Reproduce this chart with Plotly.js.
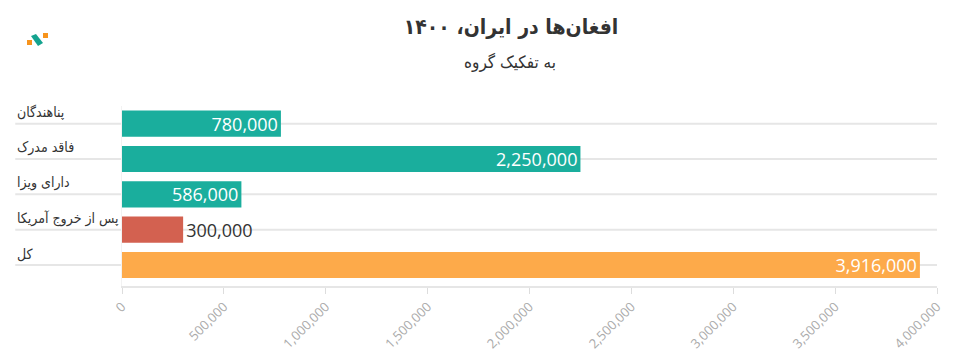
<!DOCTYPE html>
<html><head><meta charset="utf-8">
<script src="https://cdn.plot.ly/plotly-3.0.1.min.js"></script>
<style>html,body{margin:0;padding:0;background:#fff;}#chart{width:962px;height:357px;}</style>
</head><body><div id="chart"></div>
<script>
const categories = ["پناهندگان", "فاقد مدرک", "دارای ویزا", "پس از خروج آمریکا", "کل"];
const values = [780000, 2250000, 586000, 300000, 3916000];
const barColors = ["#1aae9d", "#1aae9d", "#1aae9d", "#d36150", "#fdaa4a"];
const labelPositions = ["inside", "inside", "inside", "outside", "inside"];
const tickValues = [0, 500000, 1000000, 1500000, 2000000, 2500000, 3000000, 3500000, 4000000];
const titleText = "افغان‌ها در ایران، ۱۴۰۰";
const subtitleText = "به تفکیک گروه";

const persianFont = "DejaVu Sans Condensed, DejaVu Sans, sans-serif";
const numFont = "Open Sans, sans-serif";

const trace = {
  type: "bar",
  orientation: "h",
  y: categories,
  x: values,
  marker: {color: barColors},
  text: values.map(v => v.toLocaleString("en-US")),
  textposition: labelPositions,
  insidetextanchor: "end",
  insidetextfont: {family: numFont, size: 18, color: "#ffffff"},
  outsidetextfont: {family: numFont, size: 18, color: "#333333"},
  constraintext: "none",
  cliponaxis: false,
  hoverinfo: "none"
};

const gridShapes = categories.map(c => ({
  type: "line", layer: "below",
  xref: "paper", yref: "y",
  x0: -0.131, x1: 1, y0: c, y1: c,
  line: {color: "#e6e6e6", width: 2}
}));

const labelAnns = categories.map(c => ({
  xref: "paper", yref: "y", x: -0.131, y: c,
  xanchor: "left", yanchor: "bottom", yshift: 1,
  text: c, showarrow: false,
  font: {family: persianFont, size: 14, color: "#333333"}
}));

const PT = 106, PB = 286, PL = 122, PR = 937;
const px = x => (x - PL) / (PR - PL);
const py = y => (PB - y) / (PB - PT);

const layout = {
  width: 962, height: 357,
  margin: {l: PL, r: 962 - PR, t: PT, b: 357 - PB},
  paper_bgcolor: "#ffffff", plot_bgcolor: "#ffffff",
  showlegend: false,
  bargap: 0.26,
  title: {
    text: "<b>" + titleText + "</b>",
    x: 511 / 962, xanchor: "center", xref: "container",
    y: 1 - 27 / 357, yanchor: "middle", yref: "container",
    font: {family: persianFont, size: 21, color: "#333333"}
  },
  xaxis: {
    range: [0, 4000000],
    tickvals: tickValues,
    ticktext: tickValues.map(v => v.toLocaleString("en-US")),
    tickangle: -45,
    tickfont: {family: numFont, size: 13, color: "#aaaaaa"},
    ticks: "outside", ticklen: 6, tickcolor: "#dddddd", tickwidth: 1,
    showgrid: false, zeroline: false,
    showline: true, linecolor: "#e6e6e6", linewidth: 2,
    fixedrange: true
  },
  yaxis: {
    autorange: "reversed",
    showticklabels: false,
    showgrid: false, zeroline: false,
    showline: true, linecolor: "#f2f2f2", linewidth: 1,
    ticks: "",
    fixedrange: true
  },
  shapes: gridShapes.concat([
    {type: "rect", xref: "paper", yref: "paper", x0: px(27), x1: px(32), y0: py(45), y1: py(40), line: {width: 0}, fillcolor: "#f7941d"},
    {type: "rect", xref: "paper", yref: "paper", x0: px(43), x1: px(48), y0: py(38), y1: py(33), line: {width: 0}, fillcolor: "#f7941d"},
    {type: "path", xref: "paper", yref: "paper",
     path: "M " + px(31) + " " + py(36) + " L " + px(36) + " " + py(34) + " L " + px(43) + " " + py(43) + " L " + px(38) + " " + py(46) + " Z",
     line: {width: 0}, fillcolor: "#14a38f"}
  ]),
  annotations: labelAnns.concat([{
    xref: "paper", yref: "paper", x: px(510), y: py(62),
    xanchor: "center", yanchor: "middle",
    text: subtitleText, showarrow: false,
    font: {family: persianFont, size: 17, color: "#333333"}
  }])
};

Plotly.newPlot("chart", [trace], layout, {displayModeBar: false, staticPlot: true});
</script></body></html>
